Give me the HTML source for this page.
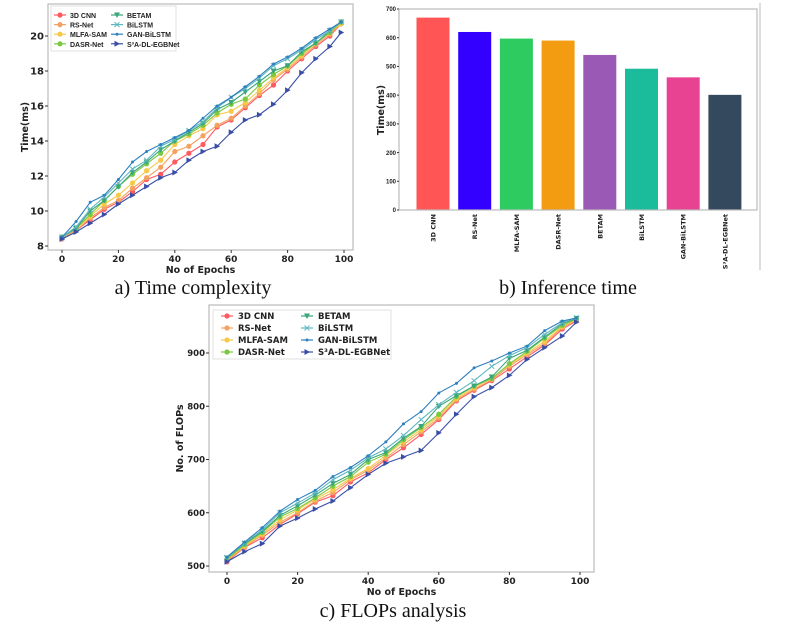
<!DOCTYPE html>
<html><head><meta charset="utf-8"><style>
body{margin:0;background:#fff}
svg{display:block;font-family:"DejaVu Sans","Liberation Sans",sans-serif}
.cap{font-family:"Liberation Serif",serif;font-size:20px;fill:#111}
.tk{font-weight:bold;fill:#222}
.tt{font-size:9.5px;font-weight:bold;fill:#222}
.lg{font-weight:bold;fill:#222}
</style></head><body>
<svg id="s" width="786" height="640" viewBox="0 0 786 640">
<text class="cap" x="193" y="294" text-anchor="middle">a) Time complexity</text>
<text class="cap" x="568" y="294" text-anchor="middle">b) Inference time</text>
<text class="cap" x="393" y="617" text-anchor="middle">c) FLOPs analysis</text>
<line x1="760" y1="3" x2="760" y2="270" stroke="#bbb" stroke-width="1"/>
</svg>
<script>
const epochs=[0,5,10,15,20,25,30,35,40,45,50,55,60,65,70,75,80,85,90,95,99];
const names=["3D CNN","RS-Net","MLFA-SAM","DASR-Net","BETAM","BiLSTM","GAN-BiLSTM","S\u00b3A-DL-EGBNet"];
const timeCNN=[8.4,8.9,9.5,10.1,10.5,11.1,11.8,12.1,12.8,13.3,13.8,14.8,15.2,15.9,16.6,17.2,18.0,18.7,19.4,20.0,20.7];
const timeRS=[8.4,8.9,9.6,10.2,10.6,11.3,11.9,12.5,13.4,13.7,14.3,14.9,15.3,16.0,16.7,17.5,18.1,18.8,19.5,20.1,20.7];
const timeMLFA=[8.5,9.0,9.7,10.4,10.9,11.6,12.3,12.9,13.8,14.3,14.7,15.5,15.7,16.2,16.9,17.6,18.2,18.9,19.6,20.2,20.7];
const timeDASR=[8.5,9.0,9.8,10.6,11.4,12.1,12.7,13.3,14.0,14.4,14.9,15.6,16.1,16.4,17.2,17.8,18.3,19.0,19.6,20.2,20.8];
const timeBETAM=[8.5,9.0,10.0,10.6,11.4,12.2,12.8,13.5,14.0,14.5,15.0,15.8,16.2,16.8,17.4,18.0,18.3,19.1,19.6,20.3,20.8];
const timeBiLSTM=[8.5,9.1,10.1,10.8,11.6,12.4,12.9,13.7,14.1,14.6,15.1,15.9,16.5,17.0,17.6,18.3,18.7,19.2,19.8,20.3,20.8];
const timeGAN=[8.5,9.4,10.5,10.9,11.8,12.8,13.4,13.8,14.2,14.6,15.3,16.0,16.5,17.1,17.7,18.4,18.8,19.3,19.9,20.4,20.8];
const timeS3A=[8.4,8.8,9.3,9.8,10.4,10.9,11.4,11.9,12.2,12.9,13.4,13.7,14.5,15.2,15.5,16.1,16.9,17.9,18.7,19.4,20.2];
const flCNN=[508,535,553,578,598,620,632,658,675,700,722,747,775,810,830,848,870,893,915,945,960];
const flRS=[510,536,558,582,600,622,638,662,680,703,728,752,778,812,832,850,875,897,918,948,962];
const flMLFA=[512,538,560,587,605,626,643,665,683,708,733,756,782,815,835,853,878,900,922,950,963];
const flDASR=[513,540,563,592,608,628,650,668,695,710,737,760,785,818,838,852,880,903,928,952,964];
const flBETAM=[515,542,565,595,613,633,655,672,700,713,740,762,800,820,838,855,890,905,930,955,965];
const flBiLSTM=[516,543,568,600,618,637,662,680,703,720,745,775,803,826,848,875,895,910,935,957,966];
const flGAN=[517,545,572,603,625,642,668,685,707,733,767,790,825,843,872,885,900,913,942,960,966];
const flS3A=[508,527,542,575,590,607,622,647,672,693,705,717,750,785,818,835,858,888,910,932,958];
const barValues=[670,620,597,590,540,492,462,401];
const xTicks=[0,20,40,60,80,100];
const timeTicks=[8,10,12,14,16,18,20];
const flopTicks=[500,600,700,800,900];
const barTicks=[0,100,200,300,400,500,600,700];

const colors=["#ff5a5f","#f4a261","#f7c948","#7ac943","#3aa67a","#5fb8c0","#2f80c0","#3a4ea8"];
const markers=["o","o","o","o","v","x",".",">"];
const barColors=["#ff5555","#3300ff","#2ecc60","#f39c12","#9b59b6","#1abc9c","#e84393","#34495e"];
const S=document.getElementById('s');const NS="http://www.w3.org/2000/svg";
function el(t,a,p){const e=document.createElementNS(NS,t);for(const k in a)e.setAttribute(k,a[k]);(p||S).appendChild(e);return e;}
function marker(g,m,x,y,c){
 let e;
 if(m=="o")e=el('circle',{cx:x,cy:y,r:2.6,fill:c},g);
 else if(m=="v")e=el('path',{d:`M${x-3} ${y-2.5}L${x+3} ${y-2.5}L${x} ${y+3}Z`,fill:c},g);
 else if(m==">")e=el('path',{d:`M${x-2.5} ${y-3}L${x+3} ${y}L${x-2.5} ${y+3}Z`,fill:c},g);
 else if(m=="x")e=el('path',{d:`M${x-2.5} ${y-2.5}L${x+2.5} ${y+2.5}M${x-2.5} ${y+2.5}L${x+2.5} ${y-2.5}`,stroke:c,'stroke-width':1},g);
 else e=el('circle',{cx:x,cy:y,r:1.5,fill:c},g);
 
 
}
function lineChart(cfg){
 const {fx0,fx1,fy0,fy1,x0px,x100px,yv0,yp0,yv1,yp1,series,yTicks,yTitle,tx,id,leg,tfs}=cfg;
 const X=v=>x0px+(x100px-x0px)*v/100;
 const Y=v=>yp0+(yp1-yp0)*(v-yv0)/(yv1-yv0);
 const g=el('g',{});
 
 
 const fr=el('rect',{x:fx0,y:fy0,width:fx1-fx0,height:fy1-fy0,fill:'none',stroke:'#bbb','stroke-width':1.2},g);
 
 
 xTicks.forEach(v=>{el('line',{x1:X(v),x2:X(v),y1:fy1,y2:fy1+3,stroke:'#333'},g);
  const t=el('text',{x:X(v),y:fy1+12,class:'tk','font-size':9,'text-anchor':'middle'},g);t.textContent=v;
  
  });
 yTicks.forEach(v=>{el('line',{x1:fx0-3,x2:fx0,y1:Y(v),y2:Y(v),stroke:'#333'},g);
  const t=el('text',{x:fx0-4,y:Y(v)+tfs*0.36,class:'tk','font-size':tfs,'text-anchor':'end'},g);t.textContent=v;
  
  });
 const xt=el('text',{x:(fx0+fx1)/2,y:fy1+23,class:'tt','text-anchor':'middle'},g);xt.textContent='No of Epochs';
 
 
 const yt=el('text',{x:tx,y:(fy0+fy1)/2,class:'tt','text-anchor':'middle',transform:`rotate(-90 ${tx} ${(fy0+fy1)/2})`},g);yt.textContent=yTitle;
 
 
 series.forEach((s,i)=>{
  const p=el('polyline',{points:s.map((v,j)=>X(epochs[j])+','+Y(v)).join(' '),fill:'none',stroke:colors[i],'stroke-width':1.1},g);
  
  
  s.forEach((v,j)=>marker(g,markers[i],X(epochs[j]),Y(v),colors[i]));
 });
 const lg=el('g',{},g);
 
 
 el('rect',{x:leg.x,y:leg.y,width:leg.w,height:leg.h,fill:'#fff',stroke:'#ddd','stroke-opacity':0.9},lg);
 names.forEach((n,i)=>{
  const col=Math.floor(i/4),row=i%4;
  const lx=leg.x+leg.pad+col*leg.cw, ly=leg.y+leg.r0+row*leg.rh;
  const ent=el('g',{},lg);
  
  
  el('line',{x1:lx,x2:lx+leg.ll,y1:ly,y2:ly,stroke:colors[i],'stroke-width':1.2},ent);
  marker(ent,markers[i],lx+leg.ll/2,ly,colors[i]);
  const t=el('text',{x:lx+leg.ll+leg.tg,y:ly+3,class:'lg','font-size':leg.fs,'font-family':leg.ff},ent);t.textContent=n;
 });
}
lineChart({id:'time',fx0:48,fx1:353,fy0:4,fy1:250,x0px:62,x100px:344,yv0:8,yp0:246,yv1:20,yp1:36,tfs:10,
 series:[timeCNN,timeRS,timeMLFA,timeDASR,timeBETAM,timeBiLSTM,timeGAN,timeS3A],yTicks:timeTicks,yTitle:'Time(ms)',tx:28,
 leg:{x:51,y:6,w:125,h:45,pad:3,cw:57,r0:9,rh:9.6,ll:12,tg:4,fs:7,ff:'Liberation Sans, sans-serif'}});
lineChart({id:'flops',fx0:209,fx1:594,fy0:305,fy1:572,x0px:227,x100px:580,yv0:500,yp0:566,yv1:900,yp1:353,tfs:8.5,
 series:[flCNN,flRS,flMLFA,flDASR,flBETAM,flBiLSTM,flGAN,flS3A],yTicks:flopTicks,yTitle:'No. of FLOPs',tx:183,
 leg:{x:213,y:310,w:178,h:49,pad:8,cw:80,r0:6,rh:12,ll:12,tg:5,fs:8.5,ff:'DejaVu Sans, sans-serif'}});
(function(){
 const fx0=399,fx1=757,fy0=9,fy1=210;
 const Y=v=>fy1-(fy1-fy0)*v/700;
 const g=el('g',{});
 
 
 barValues.forEach((v,i)=>{
  const cx=433+i*41.7;
  const r=el('rect',{x:cx-16.5,y:Y(v),width:33,height:fy1-Y(v),fill:barColors[i]},g);
  
  
  const t=el('text',{x:cx+2.5,y:214,'font-size':6.5,'font-weight':'bold',fill:'#222','text-anchor':'end',transform:`rotate(-90 ${cx+2.5} 214)`},g);
  t.textContent=names[i];
  
  
 });
 const fr=el('rect',{x:fx0,y:fy0,width:fx1-fx0,height:fy1-fy0,fill:'none',stroke:'#bbb','stroke-width':1.2},g);
 
 
 barTicks.forEach(v=>{el('line',{x1:fx0-2,x2:fx0,y1:Y(v),y2:Y(v),stroke:'#333'},g);
  const t=el('text',{x:fx0-3,y:Y(v)+2.2,'font-size':6,'font-family':'Liberation Sans, sans-serif','font-weight':'bold',fill:'#222','text-anchor':'end'},g);t.textContent=v;
  
  });
 const yt=el('text',{x:384,y:110,class:'tt','text-anchor':'middle',transform:'rotate(-90 384 110)'},g);yt.textContent='Time(ms)';
 
 
})();
</script>
</body></html>
